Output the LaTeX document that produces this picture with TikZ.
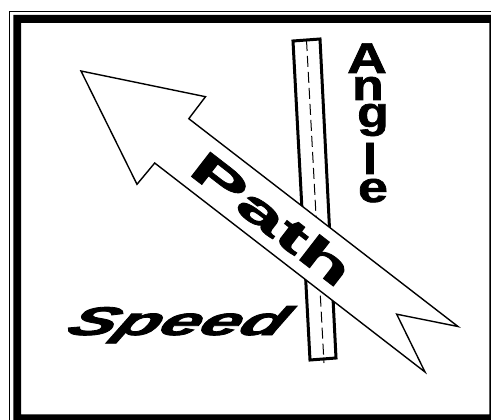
\documentclass[tikz,border=0pt]{standalone}
\usepackage{fontspec}
\newfontfamily\wafont[BoldFeatures={FakeBold=1.5}]{Liberation Sans}
\newfontfamily\speedfont[BoldItalicFeatures={FakeSlant=0.3,FakeBold=2}]{Liberation Sans}
\begin{document}
\begin{tikzpicture}[x=1pt,y=-1pt,
  framethin/.style={line width=1pt},
  roadbox/.style={draw,line width=3pt,fill=white,line join=miter},
  roadline/.style={line width=1pt,dash pattern=on 11pt off 5pt},
  arrowshape/.style={draw,line width=1.4pt,fill=white,line join=miter},
  wordart/.style={inner sep=0pt,outer sep=0pt,font=\wafont\bfseries},
  letter/.style={wordart,anchor=base,font=\wafont\bfseries\fontsize{43}{43}\selectfont}]
\useasboundingbox (0,0) rectangle (491,420);
\clip (0,0) rectangle (491,420);
% frame
\draw[framethin] (9.8,430) -- (9.8,11.5) -- (500,11.5);
\fill[even odd rule] (13.3,15) rectangle (510,440) (21,23) rectangle (489.3,414.3);
% road
\draw[roadbox] (293,41) -- (320,39) -- (336,358) -- (310,360) -- cycle;
\coordinate (rt) at (306.5,40);
\coordinate (rb) at (324,363);
\draw[roadline] (rt) -- (rb);
% arrow
\draw[arrowshape] (81,71) -- (205.5,96.7) -- (188.8,118.7) -- (458,326.5)
  -- (396.7,314.2) -- (425,372) -- (154.7,163) -- (137,184.3) -- cycle;
\node[wordart,rotate=-37.7] (path) at (272,218.5)
  {\fontsize{45}{45}\selectfont\scalebox{1.95}[1]{Path}};
% Angle
\node[letter] (a1) at (367,73) {\scalebox{1.28}[1]{A}};
\node[letter] (a2) at (368,100) {\scalebox{1.2}[1]{n}};
\node[letter] (a3) at (373,127) {\scalebox{1.2}[1]{g}};
\node[letter] (a4) at (370,174) {\scalebox{1.2}[1]{l}};
\node[letter] (a5) at (373,202) {\scalebox{1.25}[1]{e}};
% Speed
\node[inner sep=0pt,anchor=base] (speed) at (172,335)
  {\speedfont\bfseries\itshape\fontsize{40}{40}\selectfont\scalebox{1.8}[1]{Speed}};
\end{tikzpicture}
\end{document}
